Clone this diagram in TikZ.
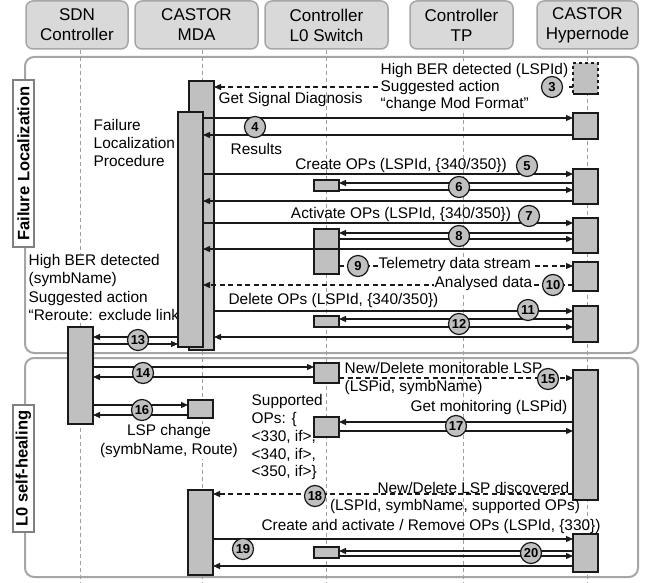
\documentclass[tikz,border=0pt]{standalone}
\usepackage{fontspec}
\setmainfont{Liberation Sans}
\usetikzlibrary{arrows.meta}
\definecolor{actfill}{HTML}{C0C0C0}
\definecolor{hdrfill}{HTML}{D9D9D9}
\definecolor{frm}{HTML}{A6A6A6}
\definecolor{ink}{HTML}{1A1A1A}
\definecolor{lifeg}{HTML}{A0A0A0}
\definecolor{flab}{HTML}{808080}
\newcommand\lblfont{\fontsize{15.4}{18.3}\selectfont}
\newcommand\hdrfont{\fontsize{17}{20}\selectfont}
\newcommand\numfont{\fontsize{13}{14}\selectfont\bfseries}
\newcommand\frmfont{\fontsize{16.5}{19}\selectfont\bfseries}
\begin{document}
\begin{tikzpicture}[x=1pt,y=-1pt,
  hdr/.style={draw=frm, fill=hdrfill, line width=1.5pt, rounded corners=7pt,
    minimum height=48, inner sep=0, align=center, font=\hdrfont},
  lifeln/.style={draw=lifeg, line width=0.9pt, dash pattern=on 4pt off 3pt},
  frame/.style={draw=frm, line width=2pt, rounded corners=9pt},
  flabel/.style={draw=flab, fill=white, line width=1.5pt, inner sep=0,
    minimum height=21, font=\frmfont},
  act/.style={draw=ink, fill=actfill, line width=1.2pt, inner sep=0, outer sep=0,
    minimum width=25},
  msg/.style={draw=ink, line width=1.2pt, -{Triangle[length=7pt,width=6pt]}},
  dmsg/.style={msg, dash pattern=on 5pt off 3.5pt},
  num/.style={circle, draw=ink, fill=actfill, line width=1.2pt, minimum size=21,
    inner sep=0, font=\numfont},
  lbl/.style={inner sep=0.5pt, font=\lblfont},
  wl/.style={lbl, fill=white}]
\useasboundingbox (0,0) rectangle (657,583);

% frames
\draw[frame] (25,57) rectangle (638,353);
\draw[frame] (25,358) rectangle (638,577);
\node[flabel, rotate=90, minimum width=167] (fl1) at (23.5,163.5) {Failure Localization};
\node[flabel, rotate=90, minimum width=127] (fl2) at (23.5,468.5) {L0 self-healing};

% headers
\node[hdr, minimum width=102] (hSDN) at (77,25) {SDN\\Controller};
\node[hdr, minimum width=123] (hMDA) at (196.5,25) {CASTOR\\MDA};
\node[hdr, minimum width=123] (hL0) at (326.5,25) {Controller\\L0 Switch};
\node[hdr, minimum width=103] (hTP) at (461.5,25) {Controller\\TP};
\node[hdr, minimum width=101] (hHN) at (587.5,25) {CASTOR\\Hypernode};

% lifelines
\coordinate (eSDN) at (80,583);
\coordinate (eMDA) at (202,583);
\coordinate (eL0) at (326,583);
\coordinate (eTP) at (463,583);
\coordinate (eHN) at (587,583);
\draw[lifeln] (hSDN.south -| eSDN) -- (eSDN);
\draw[lifeln] (hMDA.south -| eMDA) -- (eMDA);
\draw[lifeln] (hL0.south -| eL0) -- (eL0);
\draw[lifeln] (hTP.south -| eTP) -- (eTP);
\draw[lifeln] (hHN.south -| eHN) -- (eHN);

% texts lying behind boxes
\node[lbl, anchor=north west, align=left] (tFLP) at (93,118.5) {Failure\\Localization\\Procedure};
\node[wl, anchor=north west, align=left, font=\fontsize{15.4}{18.4}\selectfont] (tBER2) at (28,253.5)
  {High BER detected\\(symbName)\\Suggested action\\“Reroute: exclude link”};
\node[wl, anchor=north, align=center, font=\fontsize{15.4}{19.5}\selectfont] (tLSPc) at (169,423.5)
  {LSP change\\(symbName, Route)};

% activation boxes
\node[act, minimum height=269] (MDAb) at (201.5,215.5) {};
\node[act, minimum height=235] (MDAf) at (190.5,229.5) {};
\node[act, minimum height=31, dashed] (H1) at (585.5,78.5) {};
\draw[ink, line width=1.2pt] (H1.south west) -- (H1.south east);
\node[act, minimum height=26] (H2) at (585.5,126) {};
\node[act, minimum height=35] (H3) at (585.5,186.5) {};
\node[act, minimum height=35] (H4) at (585.5,235.5) {};
\node[act, minimum height=29] (H5) at (585.5,276.5) {};
\node[act, minimum height=36] (H6) at (585.5,324) {};
\node[act, minimum height=130] (H7) at (585.5,435) {};
\node[act, minimum height=38] (H8) at (585.5,553) {};
\node[act, minimum height=11] (S1) at (326.5,185.5) {};
\node[act, minimum height=45] (S2) at (326.5,251.5) {};
\node[act, minimum height=11] (S3) at (326.5,321.5) {};
\node[act, minimum height=20] (S4) at (326.5,373) {};
\node[act, minimum height=20] (S5) at (326.5,427) {};
\node[act, minimum height=11] (S6) at (326.5,552.5) {};
\node[act, minimum height=97] (SDN) at (80.5,375.5) {};
\node[act, minimum height=18] (MDAs) at (200.5,409) {};
\node[act, minimum height=85] (MDAl) at (200.5,532.5) {};

% messages
\draw[dmsg] (H1.west |- 0,87) -- (MDAb.east |- 0,87);
\draw[msg] (MDAf.east |- 0,118) -- (H2.west |- 0,118);
\draw[msg] (H2.west |- 0,135) -- (MDAf.east |- 0,135);
\draw[msg] (MDAf.east |- 0,174) -- (H3.west |- 0,174);
\draw[msg] (H3.west |- 0,183) -- (S1.east |- 0,183);
\draw[msg] (S1.east |- 0,190) -- (H3.west |- 0,190);
\draw[msg] (H3.west |- 0,201) -- (MDAf.east |- 0,201);
\draw[msg] (MDAf.east |- 0,223) -- (H4.west |- 0,223);
\draw[msg] (H4.west |- 0,233) -- (S2.east |- 0,233);
\draw[msg] (S2.east |- 0,239) -- (H4.west |- 0,239);
\draw[msg] (H4.west |- 0,249) -- (MDAf.east |- 0,249);
\draw[dmsg] (S2.east |- 0,266) -- (H5.west |- 0,266);
\draw[dmsg] (H5.west |- 0,285) -- (MDAf.east |- 0,285);
\draw[msg] (MDAb.east |- 0,311) -- (H6.west |- 0,311);
\draw[msg] (H6.west |- 0,319) -- (S3.east |- 0,319);
\draw[msg] (S3.east |- 0,327) -- (H6.west |- 0,327);
\draw[msg] (H6.west |- 0,337) -- (MDAb.east |- 0,337);
\draw[msg] (MDAf.west |- 0,337) -- (SDN.east |- 0,337);
\draw[msg] (SDN.east |- 0,344) -- (MDAf.west |- 0,344);
\draw[msg] (SDN.east |- 0,367) -- (S4.west |- 0,367);
\draw[msg] (S4.west |- 0,377) -- (SDN.east |- 0,377);
\draw[dmsg] (S4.east |- 0,378) -- (H7.west |- 0,378);
\draw[msg] (SDN.east |- 0,405) -- (MDAs.west |- 0,405);
\draw[msg] (MDAs.west |- 0,415) -- (SDN.east |- 0,415);
\draw[msg] (H7.west |- 0,422) -- (S5.east |- 0,422);
\draw[msg] (S5.east |- 0,431) -- (H7.west |- 0,431);
\draw[dmsg] (H7.west |- 0,494) -- (MDAl.east |- 0,494);
\draw[msg] (MDAl.east |- 0,539) -- (H8.west |- 0,539);
\draw[msg] (H8.west |- 0,551) -- (S6.east |- 0,551);
\draw[msg] (S6.east |- 0,556) -- (H8.west |- 0,556);
\draw[msg] (H8.west |- 0,566) -- (MDAl.east |- 0,566);

% labels
\node[wl, anchor=north west, align=left, font=\fontsize{15.4}{17}\selectfont] (t3) at (380,62.5)
  {High BER detected (LSPId)\\Suggested action\\“change Mod Format”};
\node[lbl, anchor=base west] (tGSD) at (218,104) {Get Signal Diagnosis};
\node[lbl, anchor=base west] (tRes) at (230,155) {Results};
\node[lbl, anchor=base] (t5) at (401,170) {Create OPs (LSPId, \{340/350\})};
\node[lbl, anchor=base] (t7) at (401,219) {Activate OPs (LSPId, \{340/350\})};
\node[wl, anchor=base west] (t9) at (378,269) {Telemetry data stream};
\node[wl, anchor=base east] (t10) at (533,288) {Analysed data};
\node[lbl, anchor=base] (t11) at (333.5,305) {Delete OPs (LSPId, \{340/350\})};
\node[lbl, anchor=north west, align=left, font=\fontsize{15.4}{18}\selectfont] (t15) at (344,362)
  {New/Delete monitorable LSP\\(LSPid, symbName)};
\node[lbl, anchor=north west, align=left, font=\fontsize{15.4}{17.9}\selectfont] (tSup) at (251,393.5)
  {Supported\\OPs: \{\\<330, if>,\\<340, if>,\\<350, if>\}};
\node[lbl, anchor=base east] (t17) at (568,411.7) {Get monitoring (LSPid)};
\node[lbl, anchor=base east] (t18a) at (570,493) {New/Delete LSP discovered};
\node[lbl, anchor=base] (t18b) at (455,510) {(LSPId, symbName, supported OPs)};
\node[lbl, anchor=base] (t19) at (431,530) {Create and activate / Remove OPs (LSPId, \{330\})};

% step numbers
\node[num] (n3) at (552,87) {3};
\node[num] (n4) at (255,127) {4};
\node[num] (n5) at (527,166) {5};
\node[num] (n6) at (459,187) {6};
\node[num] (n7) at (529,216) {7};
\node[num] (n8) at (459,236) {8};
\node[num] (n9) at (358,266) {9};
\node[num] (n10) at (553,285) {10};
\node[num] (n11) at (528,310) {11};
\node[num] (n12) at (459,324) {12};
\node[num] (n13) at (138,340) {13};
\node[num] (n14) at (143,373) {14};
\node[num] (n15) at (548,379) {15};
\node[num] (n16) at (142,410) {16};
\node[num] (n17) at (456,426) {17};
\node[num] (n18) at (315,496) {18};
\node[num] (n19) at (243,549) {19};
\node[num] (n20) at (531,553) {20};
\end{tikzpicture}
\end{document}
